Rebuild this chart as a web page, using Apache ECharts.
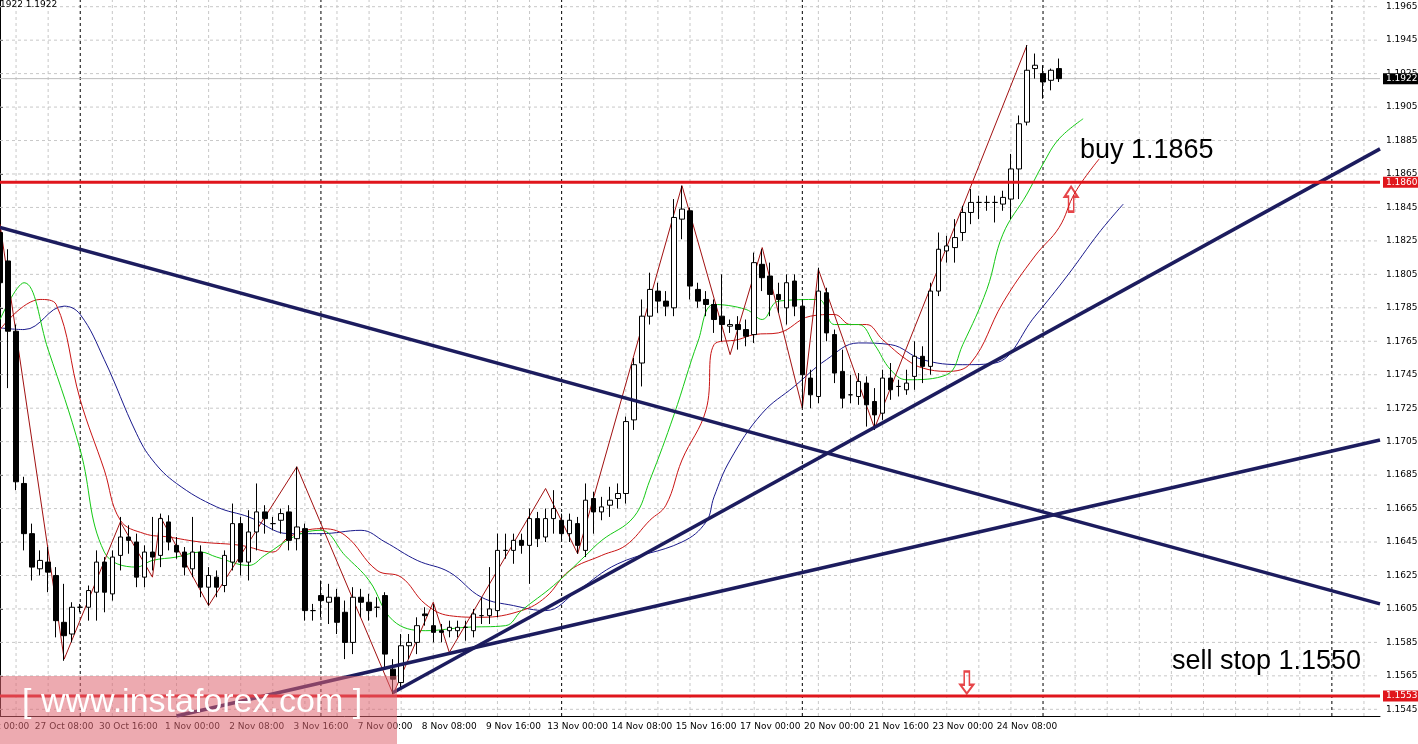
<!DOCTYPE html>
<html><head><meta charset="utf-8">
<script src="https://cdn.jsdelivr.net/npm/echarts@6/dist/echarts.min.js"></script>
<style>html,body{margin:0;padding:0;background:#fff}#c{width:1418px;height:744px}</style>
</head><body><div id="c"></div>
<script>
// candles: [open, close, low, high]
const candles = [
[1.1830,1.1800,1.1770,1.1838],[1.1813,1.1771,1.1737,1.1820],[1.1771,1.1681,1.1676,1.1775],[1.1680,1.1650,1.1640,1.1684],
[1.1650,1.1630,1.1622,1.1656],[1.1629,1.1634,1.1625,1.1640],[1.1633,1.1627,1.1615,1.1642],[1.1625,1.1598,1.1588,1.1630],
[1.1597,1.1589,1.1574,1.1620],[1.1590,1.1606,1.1585,1.1609],[1.1606,1.1606,1.1603,1.1608],[1.1606,1.1616,1.1598,1.1619],
[1.1615,1.1633,1.1598,1.1640],[1.1633,1.1615,1.1603,1.1636],[1.1614,1.1636,1.1610,1.1640],[1.1637,1.1648,1.1628,1.1660],
[1.1648,1.1646,1.1638,1.1655],[1.1645,1.1624,1.1618,1.1650],[1.1624,1.1639,1.1618,1.1643],[1.1639,1.1636,1.1628,1.1660],
[1.1637,1.1659,1.1630,1.1662],[1.1657,1.1645,1.1640,1.1661],[1.1643,1.1639,1.1635,1.1648],[1.1639,1.1630,1.1625,1.1642],
[1.1629,1.1639,1.1624,1.1660],[1.1639,1.1618,1.1612,1.1643],[1.1618,1.1625,1.1607,1.1630],[1.1624,1.1618,1.1612,1.1628],
[1.1619,1.1637,1.1615,1.1640],[1.1633,1.1656,1.1628,1.1668],[1.1656,1.1633,1.1625,1.1660],[1.1633,1.1651,1.1622,1.1664],
[1.1651,1.1663,1.1640,1.1680],[1.1663,1.1659,1.1650,1.1667],[1.1656,1.1656,1.1652,1.1660],[1.1658,1.1662,1.1650,1.1665],
[1.1663,1.1646,1.1640,1.1667],[1.1647,1.1654,1.1640,1.1690],[1.1653,1.1604,1.1598,1.1656],[1.1604,1.1604,1.1598,1.1608],
[1.1613,1.1610,1.1600,1.1622],[1.1609,1.1612,1.1596,1.1620],[1.1612,1.1597,1.1590,1.1617],[1.1603,1.1585,1.1575,1.1610],
[1.1585,1.1612,1.1578,1.1618],[1.1612,1.1609,1.1600,1.1617],[1.1609,1.1604,1.1598,1.1614],[1.1606,1.1606,1.1600,1.1612],
[1.1613,1.1578,1.1570,1.1615],[1.1569,1.1563,1.1554,1.1575],[1.1561,1.1583,1.1558,1.1590],[1.1583,1.1585,1.1575,1.1590],
[1.1585,1.1595,1.1578,1.1600],[1.1602,1.1601,1.1595,1.1606],[1.1595,1.1591,1.1585,1.1608],[1.1592,1.1591,1.1585,1.1596],
[1.1592,1.1594,1.1588,1.1598],[1.1592,1.1594,1.1588,1.1598],[1.1594,1.1594,1.1586,1.1598],[1.1592,1.1602,1.1588,1.1605],
[1.1601,1.1601,1.1596,1.1612],[1.1601,1.1605,1.1596,1.1630],[1.1604,1.1640,1.1600,1.1650],[1.1640,1.1640,1.1635,1.1650],
[1.1640,1.1646,1.1632,1.1650],[1.1646,1.1643,1.1638,1.1650],[1.1643,1.1659,1.1620,1.1665],[1.1659,1.1647,1.1642,1.1663],
[1.1648,1.1659,1.1645,1.1665],[1.1659,1.1665,1.1650,1.1676],[1.1658,1.1650,1.1646,1.1662],[1.1650,1.1658,1.1645,1.1662],
[1.1656,1.1643,1.1638,1.1660],[1.1640,1.1670,1.1636,1.1680],[1.1671,1.1663,1.1650,1.1675],[1.1663,1.1666,1.1658,1.1672],
[1.1667,1.1670,1.1660,1.1678],[1.1671,1.1674,1.1665,1.1680],[1.1674,1.1717,1.1668,1.1720],[1.1718,1.1751,1.1712,1.1755],
[1.1752,1.1780,1.1738,1.1790],[1.1780,1.1796,1.1775,1.1806],[1.1795,1.1789,1.1782,1.1800],[1.1789,1.1786,1.1780,1.1795],
[1.1785,1.1839,1.1780,1.1850],[1.1838,1.1844,1.1826,1.1858],[1.1843,1.1798,1.1790,1.1845],[1.1796,1.1789,1.1785,1.1800],
[1.1790,1.1787,1.1780,1.1795],[1.1787,1.1778,1.1770,1.1790],[1.1780,1.1775,1.1765,1.1805],[1.1774,1.1775,1.1770,1.1778],
[1.1775,1.1772,1.1760,1.1780],[1.1772,1.1768,1.1762,1.1778],[1.1769,1.1812,1.1764,1.1818],[1.1811,1.1803,1.1795,1.1820],
[1.1804,1.1793,1.1780,1.1812],[1.1793,1.1790,1.1782,1.1800],[1.1785,1.1800,1.1775,1.1805],[1.1801,1.1786,1.1780,1.1805],
[1.1786,1.1745,1.1725,1.1790],[1.1743,1.1733,1.1725,1.1748],[1.1732,1.1795,1.1728,1.1809],[1.1794,1.1770,1.1765,1.1797],
[1.1769,1.1746,1.1740,1.1772],[1.1747,1.1731,1.1725,1.1760],[1.1733,1.1733,1.1728,1.1745],[1.1732,1.1741,1.1727,1.1746],
[1.1740,1.1727,1.1714,1.1744],[1.1729,1.1721,1.1712,1.1737],[1.1722,1.1743,1.1718,1.1748],[1.1743,1.1736,1.1730,1.1752],
[1.1738,1.1738,1.1732,1.1742],[1.1736,1.1740,1.1733,1.1748],[1.1744,1.1756,1.1736,1.1765],[1.1756,1.1750,1.1740,1.1762],
[1.1750,1.1795,1.1745,1.1800],[1.1795,1.1820,1.1792,1.1830],[1.1819,1.1822,1.1812,1.1828],[1.1821,1.1827,1.1812,1.1838],
[1.1830,1.1842,1.1825,1.1846],[1.1842,1.1848,1.1835,1.1856],[1.1848,1.1848,1.1838,1.1852],[1.1848,1.1848,1.1843,1.1852],
[1.1848,1.1848,1.1836,1.1852],[1.1847,1.1851,1.1843,1.1855],[1.1850,1.1868,1.1838,1.1877],[1.1868,1.1895,1.1850,1.1900],
[1.1896,1.1927,1.1894,1.1942],[1.1928,1.1930,1.1922,1.1937],[1.1925,1.1920,1.1910,1.1930],[1.1921,1.1927,1.1915,1.1928],
[1.1928,1.1922,1.1920,1.1934]
];
const maGreen = [[0,1.1778],[3,1.1800],[6,1.1760],[10,1.1700],[13,1.1639],[17,1.1630],[19,1.1634],[22,1.1636],[25,1.1639],[27,1.1636],[31,1.1631],[33,1.1637],[37,1.1649],[40,1.1652],[43,1.1637],[46,1.1622],[49,1.1598],[53,1.1592],[58,1.1594],[63,1.1595],[65,1.1604],[69,1.1619],[73,1.1637],[75,1.1646],[79,1.1660],[81,1.1682],[84,1.1721],[87,1.1765],[89,1.1787],[93,1.1784],[95,1.1778],[97,1.1789],[102,1.1790],[104,1.1775],[107,1.1775],[109,1.1763],[111,1.1748],[113,1.1742],[118,1.1745],[120,1.1763],[123,1.1796],[125,1.1829],[128,1.1853],[130,1.1871],[132,1.1886],[135,1.1898]];
const maRed = [[0,1.1772],[5,1.1790],[7,1.1787],[10,1.1730],[13,1.1688],[15,1.1658],[18,1.1650],[21,1.1648],[25,1.1645],[30,1.1643],[34,1.1639],[36,1.1648],[40,1.1653],[43,1.1649],[47,1.1628],[50,1.1624],[53,1.1608],[56,1.1601],[60,1.1600],[65,1.1604],[68,1.1612],[71,1.1628],[75,1.1637],[78,1.1643],[81,1.1658],[83,1.1667],[85,1.1694],[88,1.1724],[89,1.1763],[92,1.1766],[94,1.1769],[97,1.1770],[101,1.1780],[104,1.1781],[106,1.1775],[108,1.1775],[110,1.1766],[113,1.1754],[115,1.1749],[118,1.1747],[121,1.1752],[125,1.1788],[129,1.1816],[132,1.1833],[134,1.1854],[137,1.1874]];
const maBlue = [[0,1.1773],[3,1.1772],[8,1.1786],[10,1.1781],[13,1.1754],[17,1.1710],[19,1.1694],[22,1.1680],[27,1.1666],[31,1.1660],[36,1.1650],[40,1.1650],[45,1.1652],[48,1.1645],[52,1.1634],[56,1.1627],[60,1.1612],[64,1.1607],[68,1.1604],[72,1.1616],[77,1.1632],[85,1.1645],[88,1.1657],[89,1.1672],[91,1.1694],[95,1.1722],[99,1.1738],[103,1.1754],[107,1.1764],[111,1.1763],[115,1.1754],[120,1.1751],[124,1.1752],[129,1.1780],[133,1.1804],[137,1.1830],[140,1.1847]];
const zigzag = [[0,1.1835],[8,1.1575],[15,1.1657],[19,1.1624],[20,1.1660],[26,1.1607],[37,1.1690],[49,1.1554],[54,1.1609],[56,1.1579],[68,1.1677],[72,1.1638],[85,1.1858],[91,1.1757],[95,1.1821],[100,1.1725],[102,1.1808],[109,1.1713],[128,1.1942]];
const trend1 = [[0,1.1833],[172,1.1608]];
const trend2 = [[22,1.1541],[172,1.1706]];
const trend3 = [[49,1.1555],[172,1.1880]];
const levelBuy = 1.1860, levelSell = 1.1553, lastPrice = 1.1922;
const arrowUp = [[133.5,1.1850]], arrowDown = [[120.5,1.1561]];
const yTicks = [1.1545,1.1565,1.1585,1.1605,1.1625,1.1645,1.1665,1.1685,1.1705,1.1725,1.1745,1.1765,1.1785,1.1805,1.1825,1.1845,1.1865,1.1885,1.1905,1.1925,1.1945,1.1965];
const xLabelIdx = [0,8,16,24,32,40,48,56,64,72,80,88,96,104,112,120,128];
const xLabels = ['26 Oct 00:00','27 Oct 08:00','30 Oct 16:00','1 Nov 00:00','2 Nov 08:00','3 Nov 16:00','7 Nov 00:00','8 Nov 08:00','9 Nov 16:00','13 Nov 00:00','14 Nov 08:00','15 Nov 16:00','17 Nov 00:00','20 Nov 00:00','21 Nov 16:00','23 Nov 00:00','24 Nov 08:00'];
const periodSeps = [10,40,70,100,130,166];
const gridCols = [2,6,14,18,22,26,30,34,38,42,46,50,54,58,62,66,74,78,82,86,90,94,98,102,106,110,114,118,122,126,134,138,142,146,150,154,158,162,170];
const nSlots = 173;

const xMax = nSlots-1, yMin = 1.1541, yMax = 1.1969;
const labelMap = {}; xLabelIdx.forEach((k,j)=>labelMap[k]=xLabels[j]);
const F = 'DejaVu Sans';
const trendStyle = {color:'#1c1c5e',width:3.5};
const hLine = (v,color,width,type,z)=>({type:'line',data:[[0,v],[xMax,v]],symbol:'none',silent:true,z:z,lineStyle:{color:color,width:width,type:type}});
const vLine = (c,color)=>({type:'line',data:[[c,yMin],[c,yMax]],symbol:'none',silent:true,z:1,lineStyle:{color:color,width:1,type:[3,3]}});
const priceTag = (v,bg)=>({show:true,formatter:v.toFixed(4),backgroundColor:bg,color:'#fff',fontSize:9,fontFamily:F,padding:[1,3],distance:3});
const series = [];
yTicks.forEach(v=>series.push(hLine(v,'#c8c8c8',1,[3,3],1)));
gridCols.forEach(c=>series.push(vLine(c,'#c8c8c8')));
periodSeps.forEach(c=>series.push(vLine(c,'#000')));
const last = hLine(lastPrice,'#bdbdbd',1,'solid',2); last.endLabel = priceTag(lastPrice,'#000'); series.push(last);
const buy = hLine(levelBuy,'#e0161c',3,'solid',8); buy.endLabel = priceTag(levelBuy,'#e0161c'); series.push(buy);
const sell = hLine(levelSell,'#e0161c',3,'solid',8); sell.endLabel = priceTag(levelSell,'#e0161c'); series.push(sell);
series.push(
  {type:'line',data:maBlue,symbol:'none',smooth:0.4,lineStyle:{color:'#1a1a8c',width:1},z:3},
  {type:'line',data:maRed,symbol:'none',smooth:0.4,lineStyle:{color:'#c81414',width:1},z:3},
  {type:'line',data:maGreen,symbol:'none',smooth:0.4,lineStyle:{color:'#14c814',width:1},z:3},
  {type:'line',data:zigzag,symbol:'none',lineStyle:{color:'#a01010',width:1},z:4},
  {type:'candlestick',data:candles.map((c,i)=>[i].concat(c)),encode:{x:0,y:[1,2,3,4]},barWidth:5,z:5,
    itemStyle:{color:'#fff',color0:'#000',borderColor:'#000',borderColor0:'#000',borderWidth:1}},
  {type:'line',data:trend1,symbol:'none',lineStyle:trendStyle,z:6},
  {type:'line',data:trend2,symbol:'none',lineStyle:trendStyle,z:6},
  {type:'line',data:trend3,symbol:'none',lineStyle:trendStyle,z:6},
  {type:'scatter',data:arrowUp,z:9,symbol:'path://M5,0 L10,8 L7,8 L7,20 L3,20 L3,8 L0,8 Z',symbolSize:[13,25],
    itemStyle:{color:'rgba(255,255,255,0)',borderColor:'#e0161c',borderWidth:2}},
  {type:'scatter',data:arrowDown,z:9,symbol:'path://M3,0 L7,0 L7,12 L10,12 L5,20 L0,12 L3,12 Z',symbolSize:[13,22],
    itemStyle:{color:'rgba(255,255,255,0)',borderColor:'#e0161c',borderWidth:2}}
);
const ch = echarts.init(document.getElementById('c'));
ch.setOption({
  animation:false,
  grid:{left:0,right:38,top:0,bottom:28,containLabel:false,outerBoundsMode:'none'},
  xAxis:{type:'value',min:0,max:xMax,
    axisLine:{lineStyle:{color:'#000'}},axisTick:{show:false},
    axisLabel:{customValues:xLabelIdx,formatter:v=>labelMap[Math.round(v)]||'',fontSize:9,fontFamily:F,color:'#000',margin:6},
    splitLine:{show:false}},
  yAxis:{type:'value',position:'right',min:yMin,max:yMax,
    axisLine:{show:true,lineStyle:{color:'#000'}},
    axisTick:{show:true,customValues:yTicks,length:3,lineStyle:{color:'#000'}},
    axisLabel:{customValues:yTicks,formatter:v=>v.toFixed(4),fontSize:9,fontFamily:F,color:'#000',margin:6},
    splitLine:{show:false}},
  graphic:[
    {type:'text',left:0,top:0,z:50,style:{text:'1922 1.1922',fontSize:9,fontFamily:F,fill:'#000'}},
    {type:'text',left:1080,top:137,z:50,style:{text:'buy 1.1865',fontSize:27,fontFamily:'Liberation Sans',fill:'#000'}},
    {type:'text',left:1172,top:648,z:50,style:{text:'sell stop 1.1550',fontSize:27,fontFamily:'Liberation Sans',fill:'#000'}},
    {type:'rect',shape:{x:0,y:676,width:397,height:68},style:{fill:'rgba(222,100,112,0.55)'},z:100},
    {type:'text',left:22,top:686,z:101,style:{text:'[ www.instaforex.com ]',fontSize:34,fontFamily:'Liberation Sans',fill:'#fff'}}
  ],
  series:series
});
</script></body></html>
